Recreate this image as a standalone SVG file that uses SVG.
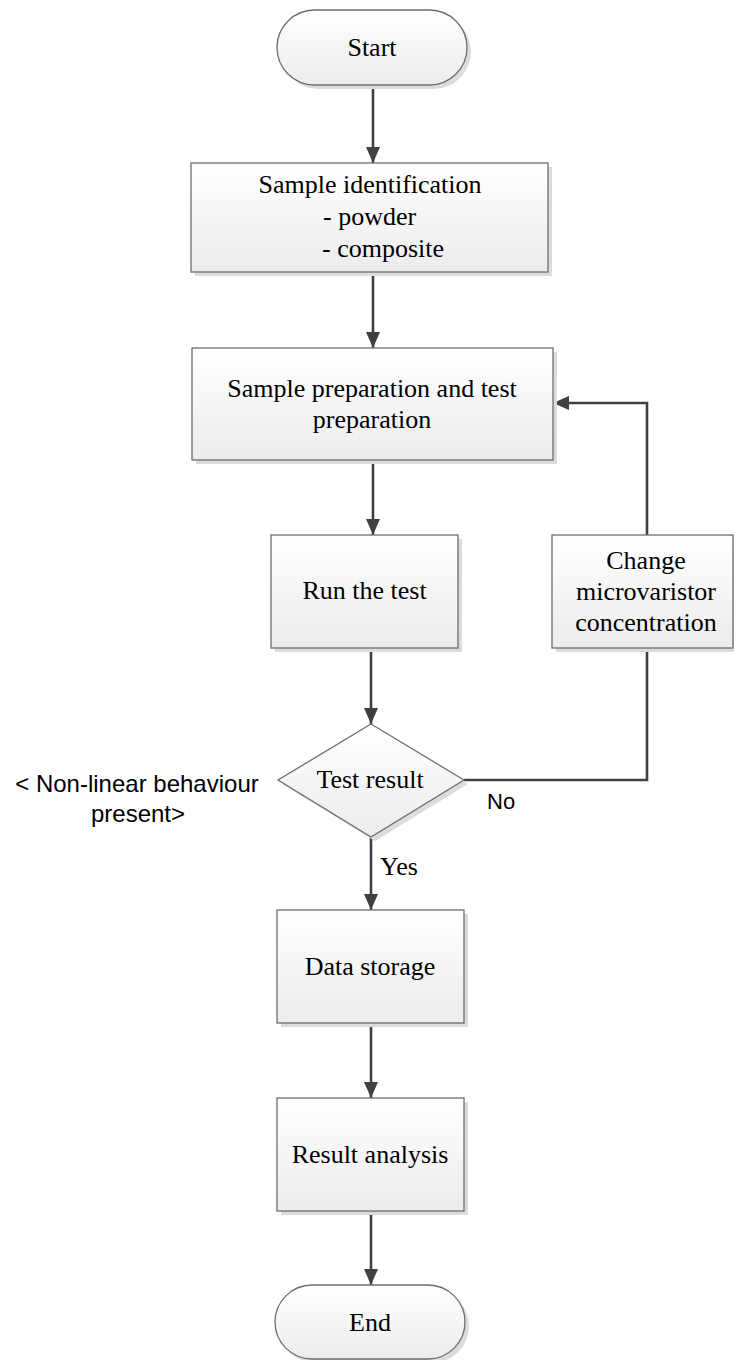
<svg xmlns="http://www.w3.org/2000/svg" width="734" height="1360" viewBox="0 0 734 1360">
  <defs>
    <linearGradient id="fillGrad" x1="0" y1="0" x2="0" y2="1">
      <stop offset="0" stop-color="#ffffff"/>
      <stop offset="1" stop-color="#ececec"/>
    </linearGradient>
    <marker id="arrow" viewBox="0 0 16 14" refX="16" refY="7" markerWidth="16" markerHeight="14" markerUnits="userSpaceOnUse" orient="auto">
      <path d="M0,0 L16,7 L0,14 Z" fill="#404040"/>
    </marker>
  </defs>
  <style>
    .shape { fill: url(#fillGrad); stroke: #6e6e6e; stroke-width: 1.3; }
    .shadow { fill: #dcdcdc; stroke: none; }
    .serif { font-family: "Liberation Serif", "Times New Roman", serif; font-size: 26px; fill: #000; }
    .sans { font-family: "Liberation Sans", Arial, sans-serif; font-size: 22px; fill: #000; }
    .note { font-size: 24px; }
    .mid { text-anchor: middle; }
    .conn { fill: none; stroke: #404040; stroke-width: 2.6; }
  </style>
  <rect width="734" height="1360" fill="#ffffff"/>

  <!-- connectors -->
  <g id="connectors">
    <line class="conn" x1="373" y1="85" x2="373" y2="163" marker-end="url(#arrow)"/>
    <line class="conn" x1="373" y1="272" x2="373" y2="348" marker-end="url(#arrow)"/>
    <line class="conn" x1="373" y1="460" x2="373" y2="535" marker-end="url(#arrow)"/>
    <line class="conn" x1="371" y1="648" x2="371" y2="724" marker-end="url(#arrow)"/>
    <line class="conn" x1="371" y1="837" x2="371" y2="910" marker-end="url(#arrow)"/>
    <line class="conn" x1="371" y1="1023" x2="371" y2="1098" marker-end="url(#arrow)"/>
    <line class="conn" x1="371" y1="1211" x2="371" y2="1285" marker-end="url(#arrow)"/>
    <!-- "No" branch back to the preparation step -->
    <polyline class="conn" points="464,780 647,780 647,648"/>
    <polyline class="conn" points="647,535 647,403 553,403" marker-end="url(#arrow)"/>
    <text class="sans" x="487" y="809">No</text>
    <text class="serif" x="380" y="875">Yes</text>
  </g>

  <g id="start">
    <rect class="shadow" x="281" y="14" width="190" height="75" rx="37.5"/>
    <rect class="shape" x="277" y="10" width="190" height="75" rx="37.5"/>
    <text class="serif mid" x="372" y="56">Start</text>
  </g>

  <g id="sample-identification">
    <rect class="shadow" x="195" y="167" width="357" height="109"/>
    <rect class="shape" x="191" y="163" width="357" height="109"/>
    <text class="serif mid" x="370" y="193">Sample identification</text>
    <text class="serif" x="323" y="225">- powder</text>
    <text class="serif" x="322" y="257">- composite</text>
  </g>

  <g id="sample-preparation">
    <rect class="shadow" x="196" y="352" width="361" height="112"/>
    <rect class="shape" x="192" y="348" width="361" height="112"/>
    <text class="serif mid" x="372" y="397">Sample preparation and test</text>
    <text class="serif mid" x="372" y="428">preparation</text>
  </g>

  <g id="run-test">
    <rect class="shadow" x="275" y="539" width="187" height="113"/>
    <rect class="shape" x="271" y="535" width="187" height="113"/>
    <text class="serif mid" x="364.5" y="599">Run the test</text>
  </g>

  <g id="change-concentration">
    <rect class="shadow" x="556" y="539" width="181" height="113"/>
    <rect class="shape" x="552" y="535" width="181" height="113"/>
    <text class="serif mid" x="646" y="569">Change</text>
    <text class="serif mid" x="646" y="600">microvaristor</text>
    <text class="serif mid" x="646" y="631">concentration</text>
  </g>

  <g id="test-result">
    <polygon class="shadow" points="375,728 468,784 375,841 282,784"/>
    <polygon class="shape" points="371,724 464,780 371,837 278,780"/>
    <text class="serif mid" x="370" y="788">Test result</text>
    <text class="sans note mid" x="137" y="792">&lt; Non-linear behaviour</text>
    <text class="sans note mid" x="138" y="822">present&gt;</text>
  </g>

  <g id="data-storage">
    <rect class="shadow" x="281" y="914" width="187" height="113"/>
    <rect class="shape" x="277" y="910" width="187" height="113"/>
    <text class="serif mid" x="370" y="975">Data storage</text>
  </g>

  <g id="result-analysis">
    <rect class="shadow" x="281" y="1102" width="187" height="113"/>
    <rect class="shape" x="277" y="1098" width="187" height="113"/>
    <text class="serif mid" x="370" y="1163">Result analysis</text>
  </g>

  <g id="end">
    <rect class="shadow" x="279" y="1289" width="190" height="74" rx="37"/>
    <rect class="shape" x="275" y="1285" width="190" height="74" rx="37"/>
    <text class="serif mid" x="370" y="1331">End</text>
  </g>
</svg>
